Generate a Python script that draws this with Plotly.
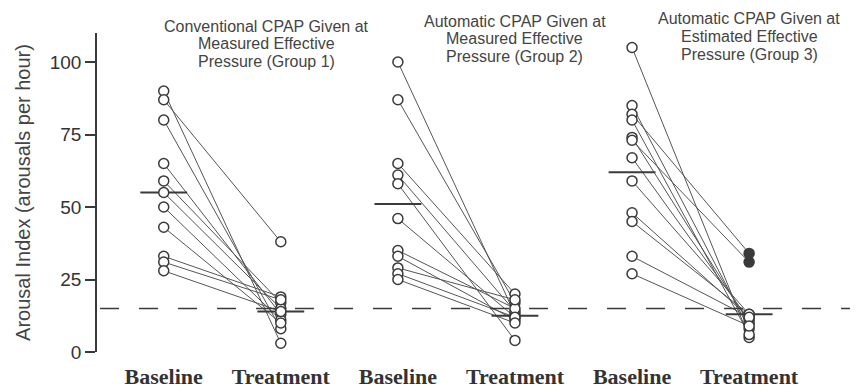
import plotly.graph_objects as go

# ---------------- data ----------------
categories = ["Baseline", "Treatment", "Baseline", "Treatment", "Baseline", "Treatment"]

g1_baseline = [90, 87, 80, 65, 59, 55, 50, 43, 33, 31, 28]
g1_treatment = [3, 38, 8, 13, 17, 15, 11, 10, 19, 18, 14]

g2_baseline = [100, 87, 65, 61, 58, 46, 35, 33, 29, 27, 25]
g2_treatment = [13, 17, 20, 14, 4, 12, 15, 11, 18, 12, 10]

g3_baseline = [105, 85, 82, 80, 74, 73, 67, 59, 48, 45, 33, 27]
g3_treatment = [5, 8, 34, 6, 10, 31, 11, 13, 12, 13, 12, 9]
g3_treatment_filled = [False, False, True, False, False, True, False, False, False, False, False, False]

mean_baseline = [55, 51, 62]
mean_treatment = [14, 12.5, 13]

threshold = 15

group_titles = [
    ["Conventional CPAP Given at", "Measured Effective", "Pressure (Group 1)"],
    ["Automatic CPAP Given at", "Measured Effective", "Pressure (Group 2)"],
    ["Automatic CPAP Given at", "Estimated Effective", "Pressure (Group 3)"],
]
y_title = "Arousal Index (arousals per hour)"
y_ticks = [0, 25, 50, 75, 100]

# ---------------- figure ----------------
INK = "#3a3a3a"
LINE = "#555555"
fig = go.Figure()

groups = [
    (g1_baseline, g1_treatment, None),
    (g2_baseline, g2_treatment, None),
    (g3_baseline, g3_treatment, g3_treatment_filled),
]

# connecting lines
for gi, (base, treat, filled) in enumerate(groups):
    xs, ys = [], []
    for b, t in zip(base, treat):
        xs += [2 * gi, 2 * gi + 1, None]
        ys += [b, t, None]
    fig.add_trace(go.Scatter(x=xs, y=ys, mode="lines",
                             line=dict(color=LINE, width=1), hoverinfo="skip",
                             showlegend=False))

# mean bars
mx, my = [], []
for gi in range(3):
    for pos, val in ((2 * gi, mean_baseline[gi]), (2 * gi + 1, mean_treatment[gi])):
        mx += [pos - 0.2, pos + 0.2, None]
        my += [val, val, None]
fig.add_trace(go.Scatter(x=mx, y=my, mode="lines", line=dict(color=INK, width=2),
                         hoverinfo="skip", showlegend=False))

# markers
for gi, (base, treat, filled) in enumerate(groups):
    fig.add_trace(go.Scatter(x=[2 * gi] * len(base), y=base, mode="markers",
                             cliponaxis=False,
                             marker=dict(symbol="circle", size=10, color="white",
                                         line=dict(color=INK, width=1.5)),
                             showlegend=False))
    if filled is None:
        colors = ["white"] * len(treat)
    else:
        colors = [INK if f else "white" for f in filled]
    fig.add_trace(go.Scatter(x=[2 * gi + 1] * len(treat), y=treat, mode="markers",
                             cliponaxis=False,
                             marker=dict(symbol="circle", size=10, color=colors,
                                         line=dict(color=INK, width=1.5)),
                             showlegend=False))

# threshold dashed line
fig.add_shape(type="line", xref="paper", yref="y", x0=0.004, x1=1,
              y0=threshold, y1=threshold,
              line=dict(color=INK, width=1.6, dash="19px,20px"))

# group titles (paper units: plot area spans 319 px vertically)
title_x = [0.88, 3.0, 5.0]
title_px = [[26, 43, 61], [21, 39, 56], [19, 37, 54]]
for gi in range(3):
    for li, txt in enumerate(group_titles[gi]):
        fig.add_annotation(x=title_x[gi], y=(352 - title_px[gi][li]) / 319.0,
                           xref="x", yref="paper",
                           text=txt, showarrow=False, xanchor="center", yanchor="middle",
                           font=dict(family="Liberation Sans, Arial, sans-serif",
                                     size=16, color="#444444"))

# page body has an 8px margin, so the figure is sized to fit the window
fig.update_layout(
    width=850, height=384,
    margin=dict(l=89, r=0, t=25, b=40),
    plot_bgcolor="white", paper_bgcolor="white",
    showlegend=False,
    xaxis=dict(range=[-0.57, 5.93], tickmode="array", tickvals=list(range(6)),
               ticktext=categories, showgrid=False, zeroline=False, showline=False,
               ticks="outside", ticklen=5, tickcolor="rgba(0,0,0,0)", automargin=False,
               tickfont=dict(family="Liberation Serif, Times New Roman, serif",
                             size=22, color="#333333", weight="bold")),
    yaxis=dict(range=[0, 110], tickmode="array", tickvals=y_ticks,
               showgrid=False, zeroline=False, showline=True, linecolor=INK,
               linewidth=1.5, ticks="outside", ticklen=10, tickwidth=1.5,
               tickcolor=INK, automargin=False,
               tickfont=dict(family="Liberation Sans, Arial, sans-serif", size=19,
                             color="#333333"),
               title=dict(text=y_title, standoff=14,
                          font=dict(family="Liberation Sans, Arial, sans-serif",
                                    size=20, color="#444444"))),
)

fig.write_html("out.html")
